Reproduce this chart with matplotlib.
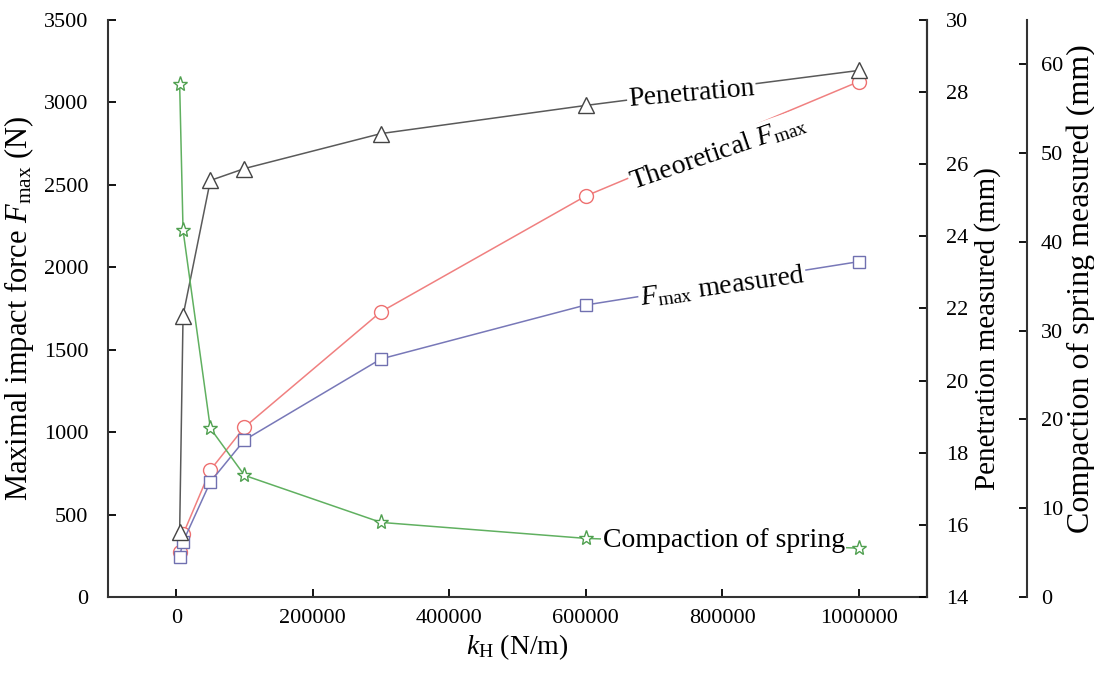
import matplotlib
matplotlib.use("Agg")
import numpy as np
import matplotlib.pyplot as plt

plt.rcParams['font.family'] = ['Liberation Serif', 'DejaVu Serif']
plt.rcParams['mathtext.fontset'] = 'custom'
plt.rcParams['mathtext.rm'] = 'Liberation Serif'
plt.rcParams['mathtext.it'] = 'Liberation Serif:italic'

# data
k_h = [5000, 10000, 50000, 100000, 300000, 600000, 1000000]
f_theory = [275, 380, 770, 1030, 1730, 2432, 3126]
f_measured = [245, 335, 698, 952, 1444, 1771, 2034]
penetration = [15.8, 21.8, 25.55, 25.88, 26.85, 27.63, 28.6]
compaction = [57.8, 41.3, 19.0, 13.7, 8.4, 6.6, 5.5]

fig = plt.figure(figsize=(10.94, 6.75), dpi=100)
ax = fig.add_axes([0.0987, 0.1156, 0.7486, 0.8548])
ax2 = ax.twinx()
ax3 = ax.twinx()
ax3.spines['right'].set_position(('axes', 1.122))

ms = 10
lw = 1.1
ax.plot(k_h, f_theory, color='#f08080', marker='o', mfc='white', mec='#ee7070',
        ms=ms, lw=lw, zorder=3)
ax.plot(k_h, f_measured, color='#7878b8', marker='s', mfc='white', mec='#7070b0',
        ms=ms-1, lw=lw, zorder=3)
ax2.plot(k_h, penetration, color='#5a5a5a', marker='^', mfc='white', mec='#444444',
         ms=ms+1, lw=lw)
ax3.plot(k_h, compaction, color='#60b060', marker='*', mfc='white', mec='#50a050',
         ms=ms+1, lw=lw)

ax.set_xlim(-100000, 1100000)
ax.set_ylim(0, 3500)
ax2.set_ylim(14, 30)
ax3.set_ylim(0, 65)
ax.set_xticks(np.arange(0, 1000001, 200000))
ax.ticklabel_format(style='plain', axis='x', useOffset=False)
ax.set_yticks(np.arange(0, 3501, 500))
ax2.set_yticks(np.arange(14, 31, 2))
ax3.set_yticks(np.arange(0, 61, 10))

for a in (ax, ax2, ax3):
    a.spines['top'].set_visible(False)
    a.tick_params(direction='in', length=6, width=1.3, labelsize=16)
    for s in a.spines.values():
        s.set_linewidth(1.5)
        s.set_color('#333333')
ax.tick_params(axis='y', pad=14)
ax.tick_params(axis='x', pad=9)
ax2.tick_params(axis='y', pad=14)
ax3.tick_params(axis='y', pad=10)
ax2.spines['left'].set_visible(False)
ax3.spines['left'].set_visible(False)
ax3.spines['bottom'].set_visible(False)
ax2.spines['bottom'].set_visible(False)

ax.set_xlabel(r'$k_{\rm H}$ (N/m)', fontsize=20, labelpad=3)
ax.set_ylabel(r'Maximal impact force $F_{\rm max}$ (N)', fontsize=22, labelpad=6)
ax2.set_ylabel('Penetration measured (mm)', fontsize=21)
ax2.yaxis.set_label_coords(1.058, 0.466)
ax3.set_ylabel('Compaction of spring measured (mm)', fontsize=23)
ax3.yaxis.set_label_coords(1.17, 0.535)

# curve labels sitting on top of the lines
bb = dict(facecolor='white', edgecolor='none', pad=1)
tr = ax.transData
ax3.text(755000, 3050, 'Penetration', transform=tr, fontsize=20, rotation=5,
         ha='center', va='center', bbox=bb, zorder=10)
ax3.text(795000, 2700, r'Theoretical $F_{\rm max}$', transform=tr, fontsize=20,
         rotation=19, ha='center', va='center', bbox=bb, zorder=10)
ax3.text(800000, 1885, r'$F_{\rm max}$ measured', transform=tr, fontsize=20,
         rotation=8, ha='center', va='center', bbox=bb, zorder=10)
ax3.text(802000, 345, 'Compaction of spring', transform=tr, fontsize=20,
         ha='center', va='center', bbox=bb, zorder=10)

fig.savefig('out.png', dpi=100)
